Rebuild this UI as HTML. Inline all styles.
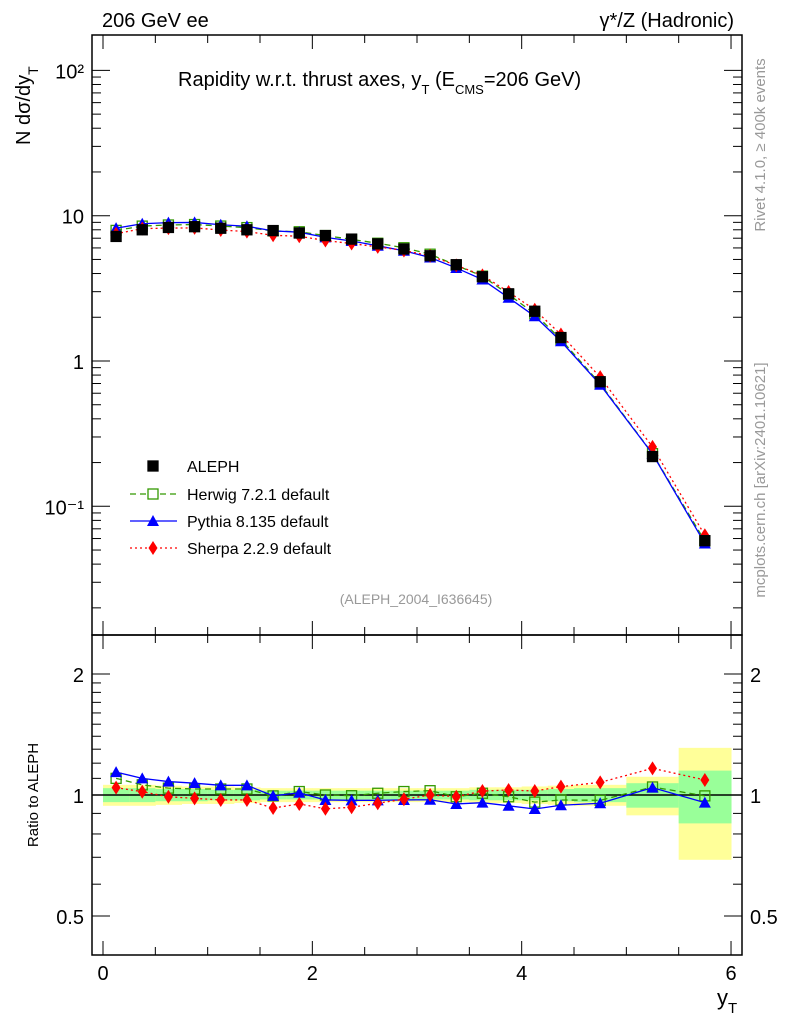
<!DOCTYPE html>
<html><head><meta charset="utf-8"><style>
body{margin:0;background:#fff;}
svg text{font-family:"Liberation Sans",sans-serif;}
</style></head><body>
<svg id="c" width="786" height="1024" xmlns="http://www.w3.org/2000/svg"></svg>
<script>
const xCenters=[0.125,0.375,0.625,0.875,1.125,1.375,1.625,1.875,2.125,2.375,2.625,2.875,3.125,3.375,3.625,3.875,4.125,4.375,4.75,5.25,5.75];
const xLo=[0,0.25,0.5,0.75,1,1.25,1.5,1.75,2,2.25,2.5,2.75,3,3.25,3.5,3.75,4,4.25,4.5,5.0,5.5];
const xHi=[0.25,0.5,0.75,1,1.25,1.5,1.75,2,2.25,2.5,2.75,3,3.25,3.5,3.75,4,4.25,4.5,5.0,5.5,6.0];
const alephVals=[7.2,8.0,8.3,8.4,8.2,8.0,7.9,7.6,7.3,6.9,6.4,5.9,5.3,4.6,3.8,2.9,2.2,1.45,0.72,0.22,0.058];
const herwigRatio=[1.10,1.06,1.04,1.035,1.035,1.035,0.995,1.02,1.0,0.996,1.01,1.02,1.025,0.99,1.01,0.99,0.96,0.972,0.97,1.047,0.995];
const pythiaRatio=[1.14,1.10,1.08,1.07,1.057,1.057,0.995,1.013,0.972,0.97,0.97,0.972,0.973,0.95,0.957,0.94,0.923,0.943,0.954,1.043,0.957];
const sherpaRatio=[1.043,1.019,0.99,0.981,0.972,0.972,0.928,0.95,0.924,0.932,0.954,0.976,1.0,0.99,1.023,1.029,1.023,1.049,1.075,1.165,1.09];
const statErr=[0.04,0.04,0.035,0.035,0.03,0.03,0.025,0.025,0.025,0.025,0.025,0.025,0.025,0.025,0.03,0.03,0.03,0.035,0.04,0.07,0.15];
const totErr=[0.06,0.06,0.055,0.05,0.05,0.045,0.04,0.04,0.04,0.04,0.04,0.04,0.04,0.04,0.045,0.045,0.05,0.055,0.06,0.11,0.31];
const xTicks=[0,2,4,6];
const yMainTicks=[100,10,1,0.1];
const yMainLabels=["10²","10","1","10⁻¹"];
const yRatioTicks=[0.5,1,2];
const yRatioLabels=["0.5","1","2"];

const svg=document.getElementById('c');
const NS="http://www.w3.org/2000/svg";
function el(t,a,p){const e=document.createElementNS(NS,t);for(const k in a)e.setAttribute(k,a[k]);(p||svg).appendChild(e);return e;}
const L=92,R=742,T=35,M=635,B=955;
const X=v=>103+v*104.67;
const Y=v=>361-145.3*Math.log10(v);
const YR=r=>795-174.6*Math.log(r);

// bands
const bands=el('g',{});


xCenters.forEach((c,i)=>{
  const r1=el('rect',{x:X(xLo[i]),y:YR(1+totErr[i]),width:X(xHi[i])-X(xLo[i])+0.5,height:YR(Math.max(0.5,1-totErr[i]))-YR(1+totErr[i]),fill:'#ffff99'},bands);
  
  
  const r2=el('rect',{x:X(xLo[i]),y:YR(1+statErr[i]),width:X(xHi[i])-X(xLo[i])+0.5,height:YR(1-statErr[i])-YR(1+statErr[i]),fill:'#99ff99'},bands);
  
  
});
el('line',{x1:L,x2:R,y1:YR(1),y2:YR(1),stroke:'#000','stroke-width':1.5});

// frames
el('rect',{x:L,y:T,width:R-L,height:M-T,fill:'none',stroke:'#000','stroke-width':1.5});
el('rect',{x:L,y:M,width:R-L,height:B-M,fill:'none',stroke:'#000','stroke-width':1.5});

// x ticks
for(let v=0;v<=6.01;v+=0.5){
  const x=X(v),maj=Math.abs(v-Math.round(v/2)*2)<0.01,len=maj?14:8;
  [[T,1],[M,-1],[M,1],[B,-1]].forEach(([y0,d])=>el('line',{x1:x,x2:x,y1:y0,y2:y0+d*len,stroke:'#000'}));
}
xTicks.forEach(v=>{const t=el('text',{x:X(v),y:980,'font-size':20,'text-anchor':'middle'});t.textContent=v;
});
// main y ticks
for(let e=-2;e<=2;e++)for(let m=1;m<=9;m++){const v=m*Math.pow(10,e),y=Y(v);if(y<T||y>M)continue;const len=m==1?18:9;
 el('line',{x1:L,x2:L+len,y1:y,y2:y,stroke:'#000'});el('line',{x1:R,x2:R-len,y1:y,y2:y,stroke:'#000'});}
yMainTicks.forEach((v,i)=>{const t=el('text',{x:84,y:Y(v)+8,'font-size':20,'text-anchor':'end'});t.textContent=yMainLabels[i];
});
// ratio ticks
for(let k=5;k<=20;k++){const r=k/10,y=YR(r);const maj=(k==5||k==10||k==20),len=maj?18:9;
 el('line',{x1:L,x2:L+len,y1:y,y2:y,stroke:'#000'});el('line',{x1:R,x2:R-len,y1:y,y2:y,stroke:'#000'});}
yRatioTicks.forEach((v,i)=>{[[84,'end'],[750,'start']].forEach(([x,a])=>{const t=el('text',{x:x,y:YR(v)+8,'font-size':20,'text-anchor':a});t.textContent=yRatioLabels[i];
});});

// series
function square(g,x,y,fill,stroke){el('rect',{x:x-5,y:y-5,width:10,height:10,fill:fill,stroke:stroke,'stroke-width':1.3},g);}
function tri(g,x,y){el('polygon',{points:`${x},${y-6} ${x-6},${y+5} ${x+6},${y+5}`,fill:'#0000ff'},g);}
function dia(g,x,y){el('polygon',{points:`${x},${y-7} ${x-4.5},${y} ${x},${y+7} ${x+4.5},${y}`,fill:'#ff0000'},g);}
const series=[
 {name:'herwig',ratio:herwigRatio,color:'#339900',dash:'6,4',mk:(g,x,y)=>square(g,x,y,'none','#339900')},
 {name:'pythia',ratio:pythiaRatio,color:'#0000ff',dash:'',mk:tri},
 {name:'sherpa',ratio:sherpaRatio,color:'#ff0000',dash:'2,3',mk:dia}];
series.forEach(s=>{
  const vals=alephVals.map((d,i)=>d*s.ratio[i]);
  const g=el('g',{});
  el('polyline',{points:xCenters.map((c,i)=>X(c)+','+Y(vals[i])).join(' '),fill:'none',stroke:s.color,'stroke-width':1.3,'stroke-dasharray':s.dash},g);
  xCenters.forEach((c,i)=>s.mk(g,X(c),Y(vals[i])));
  const g2=el('g',{});
  el('polyline',{points:xCenters.map((c,i)=>X(c)+','+YR(s.ratio[i])).join(' '),fill:'none',stroke:s.color,'stroke-width':1.3,'stroke-dasharray':s.dash},g2);
  xCenters.forEach((c,i)=>s.mk(g2,X(c),YR(s.ratio[i])));
});
const gd=el('g',{});
xCenters.forEach((c,i)=>square(gd,X(c),Y(alephVals[i]),'#000','#000'));
// redraw model markers over data (herwig outline visible)
// legend
const leg=el('g',{});
const ly=[466,494,521,548];
square(leg,153,ly[0],'#000','#000');
el('line',{x1:130,x2:177,y1:ly[1],y2:ly[1],stroke:'#339900','stroke-dasharray':'6,4','stroke-width':1.3},leg);square(leg,153,ly[1],'#fff','#339900');
el('line',{x1:130,x2:177,y1:ly[2],y2:ly[2],stroke:'#0000ff','stroke-width':1.3},leg);tri(leg,153,ly[2]);
el('line',{x1:130,x2:177,y1:ly[3],y2:ly[3],stroke:'#ff0000','stroke-dasharray':'2,3','stroke-width':1.3},leg);dia(leg,153,ly[3]);
["ALEPH","Herwig 7.2.1 default","Pythia 8.135 default","Sherpa 2.2.9 default"].forEach((s,i)=>{const t=el('text',{x:187,y:ly[i]+6,'font-size':16},leg);t.textContent=s;
});
// texts
function txt(s,a,name){const t=el('text',a);t.innerHTML=s;return t;}
txt('206 GeV ee',{x:102,y:27,'font-size':20},'header-left');
txt('γ*/Z (Hadronic)',{x:734,y:27,'font-size':20,'text-anchor':'end'},'header-right');
txt('Rapidity w.r.t. thrust axes, y<tspan dy="8" font-size="13">T</tspan><tspan dy="-8"> (E</tspan><tspan dy="8" font-size="13">CMS</tspan><tspan dy="-8">=206 GeV)</tspan>',{x:178,y:86,'font-size':20},'plot-title');
txt('(ALEPH_2004_I636645)',{x:416,y:604,'font-size':14,fill:'#999','text-anchor':'middle'},'analysis-id');
txt('N  dσ/dy<tspan dy="8" font-size="14">T</tspan>',{x:-145,y:30,'font-size':20,transform:'rotate(-90)'},'y-axis-title');
txt('Ratio to ALEPH',{x:-795,y:38,'font-size':15,transform:'rotate(-90)','text-anchor':'middle'},'ratio-axis-title');
txt('y<tspan dy="8" font-size="15">T</tspan>',{x:717,y:1005,'font-size':22},'x-axis-title');
txt('Rivet 4.1.0, ≥ 400k events',{x:-145,y:765,'font-size':15,fill:'#999',transform:'rotate(-90)','text-anchor':'middle'},'rivet-version');
txt('mcplots.cern.ch [arXiv:2401.10621]',{x:-480,y:765,'font-size':15,fill:'#999',transform:'rotate(-90)','text-anchor':'middle'},'source-credit');
</script>
</body></html>
